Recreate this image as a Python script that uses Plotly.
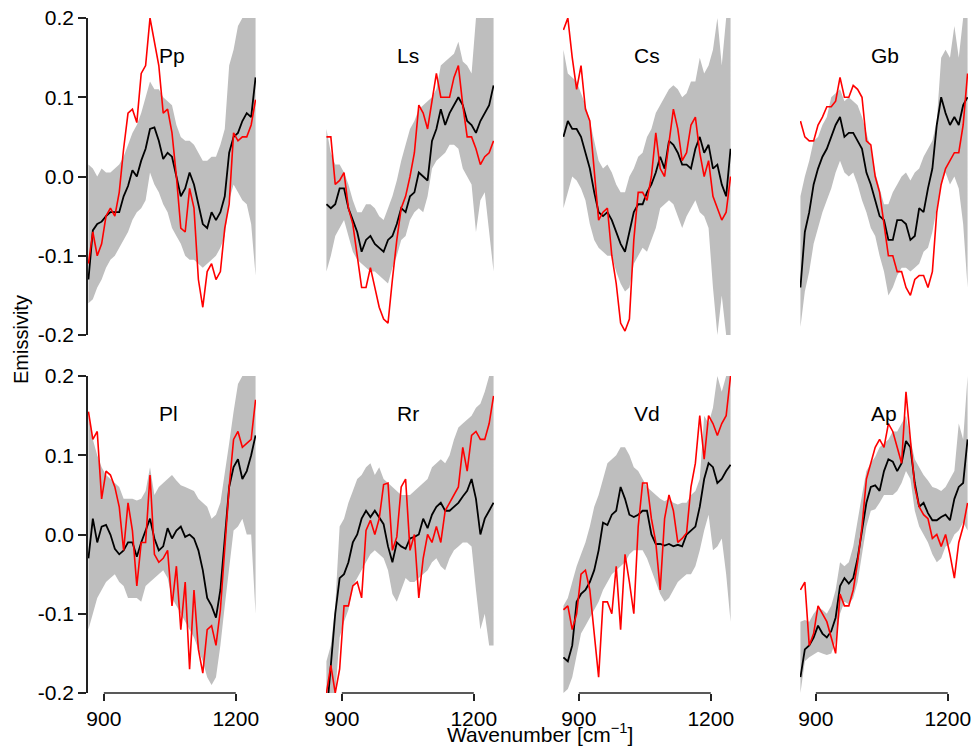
import plotly.graph_objects as go

# ---------------- data ----------------
wavenumber = [865, 875, 885, 895, 905, 915, 925, 935, 945, 955, 965, 975, 985, 995,
              1005, 1015, 1025, 1035, 1045, 1055, 1065, 1075, 1085, 1095, 1105, 1115,
              1125, 1135, 1145, 1155, 1165, 1175, 1185, 1195, 1205, 1215, 1225, 1235, 1245]

panel_names = ["Pp", "Ls", "Cs", "Gb", "Pl", "Rr", "Vd", "Ap"]

# mean (black) per panel
pp_mean = [-0.13, -0.068, -0.06, -0.057, -0.05, -0.045, -0.045, -0.045, -0.025, -0.012, 0.008, 0.0, 0.02, 0.035,
           0.06, 0.062, 0.045, 0.022, 0.03, 0.025, 0.0, -0.025, -0.015, 0.005, -0.01, -0.035,
           -0.06, -0.065, -0.045, -0.055, -0.045, -0.025, 0.03, 0.05, 0.055, 0.07, 0.08, 0.075, 0.125]
ls_mean = [-0.035, -0.04, -0.035, -0.015, -0.015, -0.04, -0.055, -0.07, -0.095, -0.08, -0.075, -0.085, -0.09, -0.095,
           -0.08, -0.075, -0.06, -0.04, -0.045, -0.025, -0.02, 0.005, 0.0, -0.005, 0.045, 0.06,
           0.085, 0.065, 0.08, 0.09, 0.1, 0.09, 0.07, 0.065, 0.055, 0.07, 0.08, 0.09, 0.115]
cs_mean = [0.05, 0.07, 0.06, 0.06, 0.05, 0.03, 0.01, -0.02, -0.045, -0.05, -0.045, -0.055, -0.07, -0.085,
           -0.095, -0.07, -0.045, -0.035, -0.035, -0.02, -0.01, 0.005, 0.025, 0.01, 0.045, 0.04,
           0.03, 0.015, 0.015, 0.01, 0.035, 0.05, 0.03, 0.04, 0.01, 0.015, -0.01, -0.025, 0.035]
gb_mean = [-0.14, -0.07, -0.045, -0.01, 0.01, 0.025, 0.035, 0.05, 0.065, 0.075, 0.05, 0.055, 0.055, 0.045,
           0.035, 0.005, -0.01, -0.03, -0.05, -0.055, -0.08, -0.08, -0.055, -0.055, -0.06, -0.08,
           -0.075, -0.04, -0.045, -0.015, 0.01, 0.065, 0.1, 0.08, 0.065, 0.075, 0.065, 0.09, 0.1]
pl_mean = [-0.03, 0.02, -0.01, 0.01, 0.012, 0.0, -0.018, -0.025, -0.02, -0.01, -0.01, -0.028, -0.01, 0.005,
           0.02, -0.005, -0.02, -0.015, 0.008, -0.005, 0.005, 0.01, -0.003, 0.0, -0.005, -0.02,
           -0.045, -0.08, -0.09, -0.105, -0.07, -0.005, 0.06, 0.085, 0.095, 0.07, 0.08, 0.1, 0.125]
rr_mean = [-0.23, -0.17, -0.1, -0.055, -0.05, -0.035, -0.01, 0.0, 0.02, 0.03, 0.022, 0.03, 0.022, 0.013,
           -0.015, -0.035, -0.01, -0.015, -0.018, -0.005, -0.003, 0.0, 0.02, 0.008, 0.025, 0.035,
           0.04, 0.03, 0.03, 0.035, 0.04, 0.048, 0.055, 0.07, 0.045, 0.0, 0.02, 0.03, 0.04]
vd_mean = [-0.155, -0.16, -0.14, -0.085, -0.075, -0.07, -0.06, -0.045, -0.02, 0.015, 0.012, 0.025, 0.03, 0.06,
           0.045, 0.025, 0.022, 0.025, 0.03, 0.03, 0.0, -0.012, -0.012, -0.014, -0.012, -0.015,
           -0.013, -0.015, 0.0, 0.005, 0.01, 0.035, 0.07, 0.09, 0.085, 0.065, 0.07, 0.08, 0.088]
ap_mean = [-0.18, -0.145, -0.14, -0.13, -0.115, -0.125, -0.13, -0.122, -0.105, -0.065, -0.055, -0.062, -0.055, -0.03,
           0.005, 0.04, 0.06, 0.062, 0.055, 0.08, 0.095, 0.092, 0.08, 0.09, 0.118, 0.11,
           0.065, 0.035, 0.04, 0.027, 0.018, 0.018, 0.022, 0.025, 0.018, 0.045, 0.06, 0.065, 0.12]

# observed (red) per panel
pp_obs = [-0.11, -0.07, -0.1, -0.085, -0.05, -0.04, -0.05, -0.02, 0.035, 0.08, 0.085, 0.068, 0.13, 0.14,
          0.2, 0.17, 0.14, 0.08, 0.085, 0.055, 0.0, -0.065, -0.07, -0.015, -0.04, -0.13,
          -0.165, -0.12, -0.11, -0.13, -0.12, -0.065, -0.035, 0.055, 0.045, 0.05, 0.05, 0.065, 0.097]
ls_obs = [0.05, 0.05, -0.01, -0.005, 0.005, -0.04, -0.06, -0.1, -0.14, -0.14, -0.115, -0.14, -0.165, -0.18,
          -0.185, -0.13, -0.08, -0.04, -0.025, 0.0, 0.03, 0.09, 0.08, 0.06, 0.095, 0.13,
          0.1, 0.1, 0.1, 0.125, 0.14, 0.09, 0.05, 0.05, 0.035, 0.015, 0.025, 0.03, 0.045]
cs_obs = [0.185, 0.2, 0.15, 0.11, 0.14, 0.085, 0.07, 0.01, -0.055, -0.045, -0.04, -0.1, -0.135, -0.185,
          -0.195, -0.18, -0.08, -0.02, -0.02, -0.03, 0.0, 0.055, 0.01, 0.0, 0.04, 0.085,
          0.06, 0.02, 0.03, 0.065, 0.075, 0.03, 0.0, 0.02, -0.025, -0.04, -0.055, -0.045, 0.0]
gb_obs = [0.07, 0.05, 0.045, 0.045, 0.065, 0.075, 0.088, 0.088, 0.095, 0.125, 0.1, 0.1, 0.115, 0.11,
          0.1, 0.045, 0.04, 0.0, -0.02, -0.06, -0.1, -0.1, -0.12, -0.12, -0.14, -0.15,
          -0.13, -0.125, -0.125, -0.14, -0.12, -0.045, -0.01, 0.01, 0.02, 0.03, 0.03, 0.065, 0.13]
pl_obs = [0.155, 0.12, 0.13, 0.045, 0.08, 0.075, 0.06, 0.035, -0.02, 0.04, 0.005, -0.065, -0.01, -0.01,
          0.075, -0.025, -0.035, -0.03, -0.02, -0.09, -0.04, -0.12, -0.06, -0.17, -0.07, -0.145,
          -0.175, -0.12, -0.115, -0.14, -0.095, -0.02, 0.06, 0.12, 0.13, 0.11, 0.115, 0.12, 0.17]
rr_obs = [-0.2, -0.165, -0.2, -0.17, -0.09, -0.09, -0.065, -0.06, -0.08, 0.005, 0.018, 0.0, 0.02, 0.063,
          0.065, -0.02, -0.003, 0.06, 0.07, -0.02, 0.0, -0.08, -0.03, 0.0, -0.01, 0.01,
          -0.01, 0.03, 0.04, 0.05, 0.06, 0.11, 0.08, 0.125, 0.13, 0.12, 0.12, 0.14, 0.175]
vd_obs = [-0.095, -0.09, -0.12, -0.1, -0.05, -0.045, -0.07, -0.13, -0.18, -0.085, -0.085, -0.1, -0.04, -0.12,
          -0.025, -0.06, -0.1, 0.01, 0.065, 0.065, 0.02, -0.01, -0.07, 0.02, 0.05, 0.03,
          -0.01, -0.005, 0.002, 0.06, 0.09, 0.15, 0.095, 0.15, 0.14, 0.125, 0.14, 0.15, 0.2]
ap_obs = [-0.07, -0.06, -0.14, -0.125, -0.09, -0.1, -0.11, -0.13, -0.15, -0.075, -0.09, -0.09, -0.07, -0.035,
          0.01, 0.07, 0.09, 0.11, 0.12, 0.11, 0.14, 0.13, 0.11, 0.09, 0.18, 0.12,
          0.06, 0.035, 0.025, 0.02, -0.005, 0.0, -0.015, 0.0, -0.025, -0.055, -0.01, 0.01, 0.04]

# band upper per panel
pp_up = [0.015, 0.01, 0.0, 0.01, 0.005, 0.005, 0.01, 0.015, 0.025, 0.04, 0.055, 0.065, 0.08, 0.1,
         0.12, 0.11, 0.11, 0.1, 0.095, 0.09, 0.065, 0.05, 0.045, 0.045, 0.04, 0.03,
         0.02, 0.02, 0.025, 0.025, 0.04, 0.06, 0.14, 0.16, 0.19, 0.2, 0.2, 0.2, 0.2]
ls_up = [0.06, 0.03, 0.015, 0.015, 0.005, -0.01, -0.03, -0.045, -0.045, -0.035, -0.035, -0.04, -0.05, -0.055,
         -0.04, -0.025, -0.005, 0.02, 0.04, 0.06, 0.07, 0.085, 0.09, 0.095, 0.1, 0.11,
         0.14, 0.145, 0.15, 0.155, 0.17, 0.145, 0.14, 0.13, 0.2, 0.2, 0.2, 0.2, 0.2]
cs_up = [0.16, 0.13, 0.125, 0.12, 0.105, 0.09, 0.07, 0.045, 0.02, 0.01, 0.015, 0.005, -0.01, -0.02,
         -0.02, 0.0, 0.01, 0.025, 0.03, 0.05, 0.06, 0.08, 0.09, 0.1, 0.11, 0.115,
         0.11, 0.1, 0.105, 0.12, 0.12, 0.15, 0.13, 0.14, 0.16, 0.2, 0.14, 0.2, 0.2]
gb_up = [-0.025, 0.0, 0.02, 0.045, 0.05, 0.065, 0.075, 0.1, 0.105, 0.11, 0.095, 0.1, 0.095, 0.09,
         0.075, 0.055, 0.035, 0.005, -0.015, -0.035, -0.035, -0.02, -0.01, 0.0, 0.005, -0.005,
         0.005, 0.01, 0.025, 0.035, 0.045, 0.07, 0.15, 0.16, 0.15, 0.19, 0.15, 0.2, 0.2]
pl_up = [0.15, 0.12, 0.1, 0.085, 0.075, 0.07, 0.065, 0.06, 0.045, 0.045, 0.045, 0.043, 0.045, 0.055,
         0.085, 0.05, 0.06, 0.065, 0.07, 0.075, 0.068, 0.062, 0.06, 0.058, 0.055, 0.045,
         0.04, 0.035, 0.02, 0.025, 0.04, 0.075, 0.115, 0.155, 0.19, 0.2, 0.2, 0.2, 0.2]
rr_up = [-0.16, -0.14, -0.09, 0.01, 0.02, 0.04, 0.055, 0.07, 0.075, 0.085, 0.09, 0.075, 0.085, 0.07,
         0.065, 0.06, 0.055, 0.05, 0.05, 0.05, 0.055, 0.06, 0.065, 0.07, 0.085, 0.09,
         0.095, 0.09, 0.1, 0.12, 0.135, 0.14, 0.145, 0.15, 0.16, 0.165, 0.18, 0.2, 0.2]
vd_up = [-0.09, -0.08, -0.06, -0.04, -0.025, -0.01, 0.01, 0.035, 0.05, 0.07, 0.09, 0.095, 0.1, 0.11,
         0.11, 0.1, 0.085, 0.08, 0.07, 0.06, 0.055, 0.05, 0.045, 0.042, 0.045, 0.04,
         0.038, 0.04, 0.04, 0.05, 0.055, 0.07, 0.15, 0.14, 0.16, 0.2, 0.18, 0.2, 0.2]
ap_up = [-0.11, -0.108, -0.11, -0.1, -0.093, -0.095, -0.1, -0.09, -0.07, -0.035, -0.04, -0.035, -0.015, 0.02,
         0.05, 0.08, 0.09, 0.098, 0.11, 0.115, 0.12, 0.13, 0.13, 0.14, 0.15, 0.12,
         0.095, 0.085, 0.075, 0.068, 0.06, 0.058, 0.055, 0.06, 0.07, 0.08, 0.14, 0.12, 0.2]

# band lower per panel
pp_lo = [-0.16, -0.155, -0.14, -0.13, -0.115, -0.105, -0.1, -0.09, -0.08, -0.07, -0.055, -0.045, -0.04, -0.03,
         0.005, -0.01, -0.02, -0.035, -0.045, -0.065, -0.075, -0.085, -0.1, -0.105, -0.105, -0.11,
         -0.115, -0.11, -0.105, -0.1, -0.09, -0.075, -0.03, -0.01, -0.02, -0.03, -0.035, -0.06, -0.125]
ls_lo = [-0.12, -0.1, -0.075, -0.065, -0.055, -0.075, -0.095, -0.105, -0.11, -0.115, -0.12, -0.12, -0.125, -0.13,
         -0.135, -0.115, -0.1, -0.08, -0.075, -0.055, -0.045, -0.04, -0.045, -0.025, 0.01, 0.02,
         0.025, 0.03, 0.04, 0.04, 0.035, 0.01, 0.0, -0.01, -0.07, -0.03, -0.02, -0.07, -0.12]
cs_lo = [-0.04, -0.02, 0.0, -0.005, -0.015, -0.03, -0.06, -0.08, -0.09, -0.095, -0.1, -0.1, -0.12, -0.135,
         -0.145, -0.14, -0.11, -0.1, -0.09, -0.095, -0.08, -0.065, -0.04, -0.035, -0.03, -0.035,
         -0.05, -0.065, -0.05, -0.04, -0.03, -0.045, -0.05, -0.065, -0.14, -0.2, -0.15, -0.2, -0.2]
gb_lo = [-0.19, -0.145, -0.12, -0.085, -0.065, -0.045, -0.03, -0.015, 0.005, 0.02, 0.005, 0.0, 0.005, -0.01,
         -0.03, -0.045, -0.065, -0.075, -0.1, -0.12, -0.15, -0.14, -0.125, -0.115, -0.115, -0.12,
         -0.115, -0.11, -0.095, -0.09, -0.07, -0.04, -0.01, 0.005, -0.01, 0.0, -0.015, -0.06, -0.14]
pl_lo = [-0.12, -0.1, -0.08, -0.07, -0.06, -0.055, -0.05, -0.06, -0.065, -0.08, -0.08, -0.08, -0.085, -0.065,
         -0.06, -0.055, -0.05, -0.045, -0.055, -0.08, -0.09, -0.1, -0.11, -0.12, -0.13, -0.145,
         -0.16, -0.18, -0.19, -0.18, -0.14, -0.09, -0.04, 0.005, 0.01, 0.02, 0.0, 0.0, -0.1]
rr_lo = [-0.2, -0.2, -0.2, -0.13, -0.11, -0.095, -0.065, -0.055, -0.045, -0.035, -0.025, -0.02, -0.025, -0.03,
         -0.045, -0.075, -0.085, -0.07, -0.055, -0.06, -0.06, -0.055, -0.05, -0.045, -0.035, -0.03,
         -0.04, -0.045, -0.03, -0.02, -0.015, -0.01, -0.01, -0.015, -0.07, -0.12, -0.1, -0.14, -0.14]
vd_lo = [-0.2, -0.195, -0.18, -0.15, -0.125, -0.115, -0.105, -0.095, -0.085, -0.07, -0.06, -0.05, -0.045, -0.04,
         -0.035, -0.025, -0.02, -0.02, -0.02, -0.03, -0.045, -0.06, -0.075, -0.085, -0.08, -0.07,
         -0.06, -0.055, -0.05, -0.05, -0.04, -0.02, 0.005, 0.025, -0.02, -0.015, -0.005, -0.05, -0.11]
ap_lo = [-0.2, -0.16, -0.155, -0.152, -0.148, -0.15, -0.152, -0.15, -0.135, -0.1, -0.085, -0.088, -0.08, -0.06,
         -0.025, 0.01, 0.03, 0.032, 0.04, 0.05, 0.05, 0.05, 0.055, 0.065, 0.08, 0.07,
         0.03, 0.01, 0.0, -0.01, -0.025, -0.035, -0.03, -0.015, -0.012, 0.0, 0.005, 0.015, 0.005]

means = [pp_mean, ls_mean, cs_mean, gb_mean, pl_mean, rr_mean, vd_mean, ap_mean]
observed = [pp_obs, ls_obs, cs_obs, gb_obs, pl_obs, rr_obs, vd_obs, ap_obs]
uppers = [pp_up, ls_up, cs_up, gb_up, pl_up, rr_up, vd_up, ap_up]
lowers = [pp_lo, ls_lo, cs_lo, gb_lo, pl_lo, rr_lo, vd_lo, ap_lo]

y_tickvals = [-0.2, -0.1, 0.0, 0.1, 0.2]
y_ticktext = ["-0.2", "-0.1", "0.0", "0.1", "0.2"]
x_tickvals = [900, 1200]
x_ticktext = ["900", "1200"]

# ---------------- layout geometry (window pixels) ----------------
W, H = 974, 748
col_px = [(88, 256), (326, 494), (563, 731), (800, 968)]
row_px = [(18, 335), (376, 693)]
FONT = "Liberation Sans, Arial, Helvetica, sans-serif"
BAND = "#bebebe"
AX = "#222222"


def fx(px):
    return px / W


def fy(py):
    return 1 - py / H


fig = go.Figure()
layout = dict(width=W, height=H, autosize=False,
              margin=dict(l=0, r=0, t=0, b=0, pad=0),
              paper_bgcolor="white", plot_bgcolor="white",
              showlegend=False, font=dict(family=FONT, size=21, color="black"))
annotations = []
shapes = []

for i in range(8):
    r, c = divmod(i, 4)
    n = i + 1
    xa = "x" if n == 1 else f"x{n}"
    ya = "y" if n == 1 else f"y{n}"
    xkey = "xaxis" if n == 1 else f"xaxis{n}"
    ykey = "yaxis" if n == 1 else f"yaxis{n}"

    fig.add_trace(go.Scatter(x=wavenumber, y=lowers[i], mode="lines",
                             line=dict(width=0, color=BAND), xaxis=xa, yaxis=ya,
                             hoverinfo="skip"))
    fig.add_trace(go.Scatter(x=wavenumber, y=uppers[i], mode="lines",
                             line=dict(width=0, color=BAND), fill="tonexty",
                             fillcolor=BAND, xaxis=xa, yaxis=ya, hoverinfo="skip"))
    fig.add_trace(go.Scatter(x=wavenumber, y=means[i], mode="lines",
                             line=dict(width=1.8, color="black"), xaxis=xa, yaxis=ya))
    fig.add_trace(go.Scatter(x=wavenumber, y=observed[i], mode="lines",
                             line=dict(width=1.6, color="red"), xaxis=xa, yaxis=ya))

    x0, x1 = col_px[c]
    yt, yb = row_px[r]
    xdict = dict(domain=[fx(x0), fx(x1)], range=[864, 1246], showgrid=False,
                 zeroline=False, showline=False, anchor=ya, automargin=False)
    if r == 1:
        xdict.update(tickmode="array", tickvals=x_tickvals, ticktext=x_ticktext,
                     ticks="outside", ticklen=7, tickwidth=1.5, tickcolor=AX,
                     ticklabeloverflow="allow",
                     tickfont=dict(size=21, family=FONT, color="black"))
        shapes.append(dict(type="line", xref=xa, yref=f"{ya} domain",
                           x0=x_tickvals[0], x1=x_tickvals[1], y0=0, y1=0,
                           line=dict(color=AX, width=1.5)))
    else:
        xdict.update(showticklabels=False, ticks="")
    layout[xkey] = xdict

    ydict = dict(domain=[fy(yb), fy(yt)], range=[-0.2, 0.2], showgrid=False,
                 zeroline=False, anchor=xa, automargin=False)
    if c == 0:
        ydict.update(tickmode="array", tickvals=y_tickvals, ticktext=y_ticktext,
                     ticks="outside", ticklen=8, tickwidth=1.5, tickcolor=AX,
                     showline=True, linewidth=1.5, linecolor=AX,
                     ticklabeloverflow="allow",
                     tickfont=dict(size=21, family=FONT, color="black"))
    else:
        ydict.update(showticklabels=False, ticks="", showline=False)
    layout[ykey] = ydict

    annotations.append(dict(text=panel_names[i], x=1021, y=0.153, xref=xa, yref=ya,
                            xanchor="left", yanchor="middle", showarrow=False,
                            font=dict(size=21, family=FONT, color="black")))

annotations.append(dict(text="Emissivity", x=fx(21), y=fy(340), xref="paper", yref="paper",
                        textangle=-90, showarrow=False, xanchor="center", yanchor="middle",
                        font=dict(size=20, family=FONT, color="black")))
annotations.append(dict(text="Wavenumber [cm<sup>\u22121</sup>]", x=fx(540), y=0,
                        xref="paper", yref="paper", showarrow=False,
                        xanchor="center", yanchor="bottom",
                        font=dict(size=21, family=FONT, color="black")))

layout["annotations"] = annotations
layout["shapes"] = shapes
fig.update_layout(**layout)
fig.write_html("out.html",
               config={"displayModeBar": False},
               post_script="document.body.style.margin='0';document.body.style.overflow='hidden';")
